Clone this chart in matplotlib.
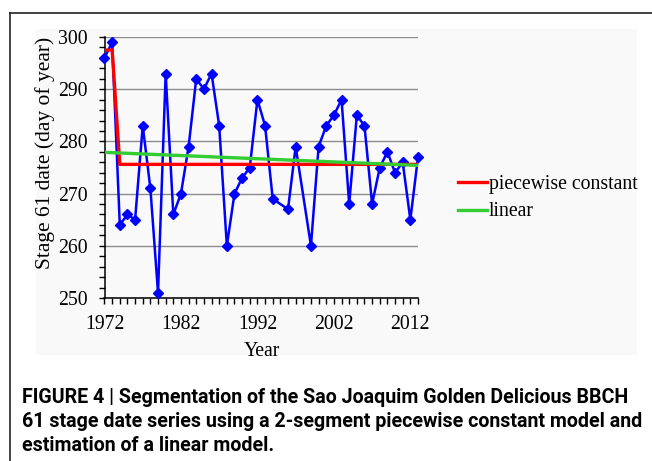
import matplotlib
matplotlib.use("Agg")
import matplotlib.pyplot as plt
from matplotlib.patches import Rectangle
from matplotlib.lines import Line2D
from matplotlib.ticker import MultipleLocator

years = [1972, 1973, 1974, 1975, 1976, 1977, 1978, 1979, 1980, 1981, 1982,
         1983, 1984, 1985, 1986, 1987, 1988, 1989, 1990, 1991, 1992, 1993,
         1994, 1996, 1997, 1999, 2000, 2001, 2002, 2003, 2004, 2005, 2006,
         2007, 2008, 2009, 2010, 2011, 2012, 2013]
stage61 = [296, 299, 264, 266, 265, 283, 271, 251, 293, 266, 270,
           279, 292, 290, 293, 283, 260, 270, 273, 275, 288, 283,
           269, 267, 279, 260, 279, 283, 285, 288, 268, 285, 283,
           268, 275, 278, 274, 276, 265, 277]

pc_years = [1972, 1973, 1974, 2013]
pc_values = [297.5, 297.5, 275.6, 275.6]

lin_years = [1972, 2013]
lin_values = [277.9, 275.4]

legend_labels = ["piecewise constant", "linear"]
xticks = [1972, 1982, 1992, 2002, 2012]
yticks = [250, 260, 270, 280, 290, 300]

W, H = 652, 461
fig = plt.figure(figsize=(W / 100, H / 100), dpi=100)
fig.patch.set_facecolor("white")

def fx(px):
    return px / W

def fy(py):
    return 1 - py / H

# gray panel
fig.patches.append(Rectangle((fx(36), fy(355)), fx(637) - fx(36), fy(29) - fy(355),
                             transform=fig.transFigure, facecolor="#f9f9f9",
                             edgecolor="none", zorder=-10))
# frame lines (top and left)
fig.lines.append(Line2D([fx(10), 1.0], [fy(13), fy(13)], transform=fig.transFigure,
                        color="#222222", lw=1.2, zorder=-5))
fig.lines.append(Line2D([fx(10), fx(10)], [fy(13), 0.0], transform=fig.transFigure,
                        color="#222222", lw=1.2, zorder=-5))

ax = fig.add_axes([fx(104.5), fy(298), fx(418) - fx(104.5), fy(37) - fy(298)])
ax.set_facecolor("none")
serif = "Liberation Serif"
fs = 14.2

ax.plot(years, stage61, color="#0000ff", lw=1.8, marker="D", ms=5.5,
        markeredgecolor="#0000ff", zorder=3, clip_on=False)
l1, = ax.plot(pc_years, pc_values, color="#ff0000", lw=2.4, zorder=4)
l2, = ax.plot(lin_years, lin_values, color="#33cc33", lw=2.4, zorder=4)

ax.set_xlim(1972, 2013)
ax.set_ylim(250, 300)
ax.set_xticks(xticks)
ax.set_yticks(yticks)
ax.xaxis.set_minor_locator(MultipleLocator(1))
ax.yaxis.set_minor_locator(MultipleLocator(2))
ax.tick_params(axis="both", which="both", direction="out", length=4, width=1,
               color="black")
ax.tick_params(axis="y", which="major", pad=8)
ax.tick_params(axis="x", which="major", pad=8.5)
for lab in ax.get_xticklabels() + ax.get_yticklabels():
    lab.set_fontfamily(serif)
    lab.set_fontsize(fs)

ax.grid(axis="y", which="major", color="#8c8c8c", lw=1)
ax.set_axisbelow(True)
for s in ["top", "right"]:
    ax.spines[s].set_visible(False)
for s in ["left", "bottom"]:
    ax.spines[s].set_linewidth(1.1)

fig.text(fx(45), fy(153), "Stage 61 date (day of year)", rotation=90,
         ha="center", va="center", fontfamily=serif, fontsize=15.5)
fig.text(fx(262), fy(351), "Year", ha="center", va="center",
         fontfamily=serif, fontsize=fs)

fig.legend([l1, l2], legend_labels, loc="center left",
           bbox_to_anchor=(fx(458), fy(198)), frameon=False,
           prop={"family": serif, "size": fs}, handlelength=1.45,
           handletextpad=0.1, labelspacing=0.45, borderpad=0, borderaxespad=0)

cap_lines = ["FIGURE 4 | Segmentation of the Sao Joaquim Golden Delicious BBCH",
             "61 stage date series using a 2-segment piecewise constant model and",
             "estimation of a linear model."]
cap_y = [397, 421, 445]
renderer = fig.canvas.get_renderer()
t0 = fig.text(fx(22), fy(cap_y[0]), cap_lines[0], ha="left", va="center",
              fontfamily="Roboto", fontweight="bold", fontsize=12)
w = t0.get_window_extent(renderer).width
cfs = 12 * 606 / w
t0.set_fontsize(cfs)
for line, yy in zip(cap_lines[1:], cap_y[1:]):
    fig.text(fx(22), fy(yy), line, ha="left", va="center",
             fontfamily="Roboto", fontweight="bold", fontsize=cfs)

fig.savefig("out.png", dpi=100)
